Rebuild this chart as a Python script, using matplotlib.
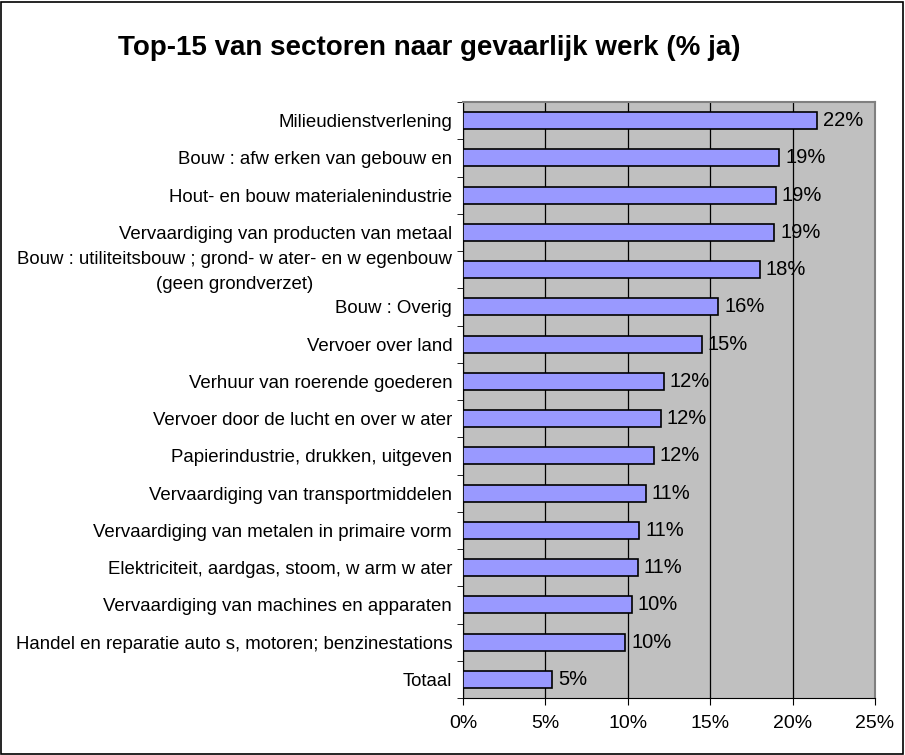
import matplotlib
matplotlib.use("Agg")
import matplotlib.pyplot as plt
import matplotlib.patches as mpatches
import numpy as np

plt.rcParams['font.family'] = ['Liberation Sans', 'DejaVu Sans']

# categories top to bottom, as in the picture
sectors = [
    "Milieudienstverlening",
    "Bouw : afw erken van gebouw en",
    "Hout- en bouw materialenindustrie",
    "Vervaardiging van producten van metaal",
    "Bouw : utiliteitsbouw ; grond- w ater- en w egenbouw\n(geen grondverzet)",
    "Bouw : Overig",
    "Vervoer over land",
    "Verhuur van roerende goederen",
    "Vervoer door de lucht en over w ater",
    "Papierindustrie, drukken, uitgeven",
    "Vervaardiging van transportmiddelen",
    "Vervaardiging van metalen in primaire vorm",
    "Elektriciteit, aardgas, stoom, w arm w ater",
    "Vervaardiging van machines en apparaten",
    "Handel en reparatie auto s, motoren; benzinestations",
    "Totaal",
]
pct_ja = [21.5, 19.2, 19.0, 18.9, 18.0, 15.5, 14.5, 12.2, 12.0, 11.6,
          11.1, 10.7, 10.6, 10.25, 9.85, 5.4]
value_labels = ["22%", "19%", "19%", "19%", "18%", "16%", "15%", "12%",
                "12%", "12%", "11%", "11%", "11%", "10%", "10%", "5%"]
xticks = [0, 5, 10, 15, 20, 25]

fig = plt.figure(figsize=(9.05, 7.55), dpi=100)
ax_w = 412
ax = fig.add_axes([463 / 905, 1 - 698 / 755, ax_w / 905, 596 / 755])

y = np.arange(len(sectors))
ax.set_facecolor("#c0c0c0")
ax.barh(y, pct_ja, height=0.46, color="#9999ff", edgecolor="black",
        linewidth=1.2, zorder=3)
for yi, v, lab in zip(y, pct_ja, value_labels):
    ax.text(v + 0.35, yi, lab, va="center", ha="left",
            fontsize=14.5, zorder=4)

ax.set_xlim(0, 25)
ax.set_ylim(len(sectors) - 0.5, -0.5)
ax.set_xticks(xticks)
ax.set_xticklabels(["%d%%" % t for t in xticks], fontsize=14)
# two-line label sits a bit higher than its bar in the original
label_pos = [yi - 0.1 if "\n" in s else yi for yi, s in zip(y, sectors)]
ax.set_yticks(label_pos)
ax.set_yticklabels(sectors, fontsize=13.4, ha="center", linespacing=1.6)
ax.tick_params(axis="y", length=0)
ax.tick_params(axis="x", length=5, direction="out", pad=7)
# center-aligned tick labels: shift so their right edge sits near the axis
fig.canvas.draw()
for lab in ax.get_yticklabels():
    bb = lab.get_window_extent()
    lab.set_x(-(bb.width / 2 + 6) / ax_w)
ax.set_yticks(np.arange(len(sectors) + 1) - 0.5, minor=True)
ax.tick_params(axis="y", which="minor", length=4, direction="out")

ax.xaxis.grid(True, color="black", linewidth=0.9, zorder=1)
ax.set_axisbelow(True)
for side in ["top", "right"]:
    ax.spines[side].set_color("#808080")
    ax.spines[side].set_linewidth(1.5)
ax.spines["left"].set_color("black")
ax.spines["bottom"].set_color("black")

fig.text(429 / 905, 1 - 48 / 755, "Top-15 van sectoren naar gevaarlijk werk (% ja)",
         ha="center", va="center", fontsize=20, fontweight="bold")

fig.patches.append(mpatches.Rectangle((1 / 905, 1 / 755), 902 / 905, 752 / 755,
                                      transform=fig.transFigure, fill=False,
                                      edgecolor="black", linewidth=1.2))

fig.savefig("out.png", dpi=100)
